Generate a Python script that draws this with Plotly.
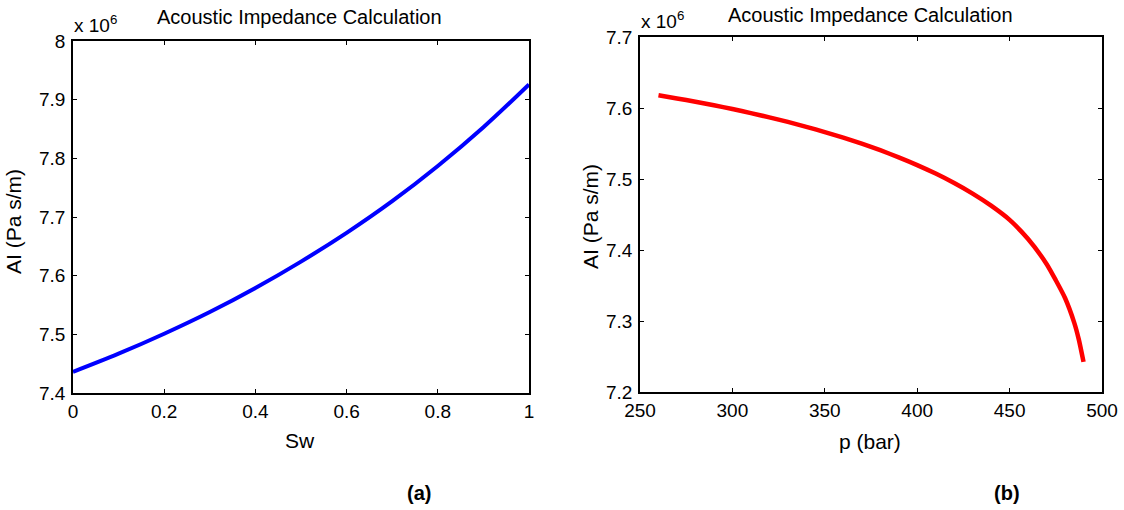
import plotly.graph_objects as go

# ---- data (AI in units of 10^6 Pa s/m) ----
sw = [0.0, 0.1, 0.2, 0.3, 0.4, 0.5, 0.6, 0.7, 0.8, 0.9, 1.0]
ai_sw = [7.436, 7.467, 7.501, 7.538, 7.579, 7.624, 7.673, 7.727, 7.787, 7.853, 7.926]

p_bar = [260, 270, 280, 290, 300, 310, 320, 330, 340, 350, 360, 370, 380, 390, 400,
         410, 420, 430, 440, 450, 460, 470, 475, 480, 485, 487.5, 490]
ai_p = [7.6180, 7.6135, 7.6088, 7.6038, 7.5985, 7.5928, 7.5868, 7.5804, 7.5735, 7.5661,
        7.5582, 7.5497, 7.5405, 7.5305, 7.5196, 7.5076, 7.4943, 7.4794, 7.4624, 7.4424,
        7.4154, 7.3804, 7.3574, 7.3324, 7.2974, 7.2734, 7.2424]

x_ticks_a = [0, 0.2, 0.4, 0.6, 0.8, 1]
y_ticks_a = [7.4, 7.5, 7.6, 7.7, 7.8, 7.9, 8.0]
x_ticks_b = [250, 300, 350, 400, 450, 500]
y_ticks_b = [7.2, 7.3, 7.4, 7.5, 7.6, 7.7]

title_text = "Acoustic Impedance Calculation"
ylabel = "AI (Pa s/m)"
xlabel_a = "Sw"
xlabel_b = "p (bar)"

W, H = 1124, 510
FONT = "Liberation Sans, Arial, sans-serif"

def fx(px):
    return px / W

def fy(py):
    return (H - py) / H

fig = go.Figure()
fig.add_trace(go.Scatter(x=sw, y=ai_sw, mode="lines", line=dict(color="#0000FF", width=4, shape="spline", smoothing=1.0),
                         xaxis="x", yaxis="y", showlegend=False))
fig.add_trace(go.Scatter(x=p_bar, y=ai_p, mode="lines", line=dict(color="#FF0000", width=4.5, shape="spline", smoothing=0.6),
                         xaxis="x2", yaxis="y2", showlegend=False))

axis_common = dict(showgrid=False, zeroline=False, showline=True, linecolor="black", linewidth=1.5,
                   mirror="ticks", ticks="inside", ticklen=4, tickwidth=1, tickcolor="black",
                   automargin=False,
                   tickfont=dict(family=FONT, size=19, color="black"))

fig.update_layout(
    width=W, height=H,
    margin=dict(l=0, r=0, t=0, b=0, pad=0),
    paper_bgcolor="white", plot_bgcolor="white",
    font=dict(family=FONT, color="black"),
    xaxis=dict(domain=[fx(73), fx(529)], range=[0, 1], tickvals=x_ticks_a,
               ticktext=[f"{v:g}" for v in x_ticks_a], anchor="y", **axis_common),
    yaxis=dict(domain=[fy(393), fy(41)], range=[7.4, 8.0], tickvals=y_ticks_a,
               ticktext=[f"{v:g}" for v in y_ticks_a], anchor="x", ticklabelstandoff=2, **axis_common),
    xaxis2=dict(domain=[fx(640), fx(1102)], range=[250, 500], tickvals=x_ticks_b,
                ticktext=[f"{v:g}" for v in x_ticks_b], anchor="y2", **axis_common),
    yaxis2=dict(domain=[fy(392), fy(37)], range=[7.2, 7.7], tickvals=y_ticks_b,
                ticktext=[f"{v:g}" for v in y_ticks_b], anchor="x2", ticklabelstandoff=2, **axis_common),
)

ann = []
def text(x, y, s, size, bold=False, angle=0, xanchor="center"):
    ann.append(dict(x=fx(x), y=fy(y), xref="paper", yref="paper", text=(f"<b>{s}</b>" if bold else s),
                    showarrow=False, xanchor=xanchor, yanchor="middle", textangle=angle,
                    font=dict(family=FONT, size=size, color="black")))

# titles
text(300, 17, title_text, 20)
text(870, 15, title_text, 20)
# exponent labels
text(72, 24, "x 10<sup>6</sup>", 19, xanchor="left")
text(639, 20, "x 10<sup>6</sup>", 19, xanchor="left")
# axis labels
text(300, 440, xlabel_a, 21)
text(870, 441, xlabel_b, 21)
text(13, 222, ylabel, 21, angle=-90)
text(590, 217, ylabel, 21, angle=-90)
# panel tags
text(419, 493, "(a)", 20, bold=True)
text(1007, 493, "(b)", 20, bold=True)

fig.update_layout(annotations=ann)
fig.write_html("out.html")
